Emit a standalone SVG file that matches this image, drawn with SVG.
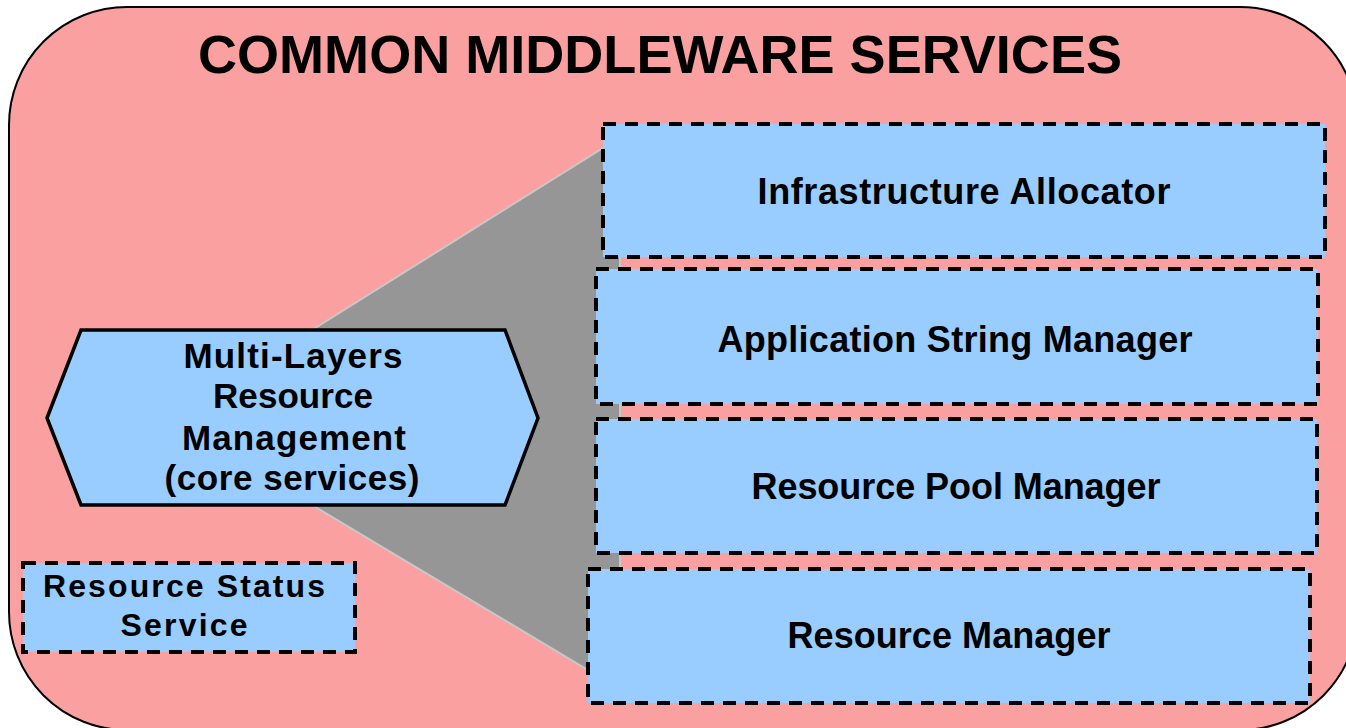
<svg xmlns="http://www.w3.org/2000/svg" width="1346" height="728" viewBox="0 0 1346 728">
<style>
.t{font-family:"Liberation Sans",Arial,sans-serif;font-weight:bold;fill:#000;text-anchor:middle}
.box{fill:#99CCFF;stroke:#000;stroke-width:4;stroke-dasharray:13 9}
</style>
<rect x="9" y="7" width="1349" height="723" rx="118" ry="118" fill="#FAA0A0" stroke="#000" stroke-width="2"/>
<text class="t" x="660" y="73" font-size="53" textLength="924" lengthAdjust="spacingAndGlyphs">COMMON MIDDLEWARE SERVICES</text>
<g id="connectors">
<polygon points="312,330 603,148 620,148 620,670 588,670 312,505" fill="#969696" stroke="#C8C8C8" stroke-width="2"/>
</g>
<g id="infrastructure-allocator">
<rect class="box" x="603" y="124" width="722" height="133"/>
<text class="t" x="964" y="204" font-size="36" textLength="413" lengthAdjust="spacing">Infrastructure Allocator</text>
</g>
<g id="application-string-manager">
<rect class="box" x="596" y="269" width="722" height="135"/>
<text class="t" x="955" y="352" font-size="36" textLength="475" lengthAdjust="spacing">Application String Manager</text>
</g>
<g id="resource-pool-manager">
<rect class="box" x="596" y="419" width="721" height="134"/>
<text class="t" x="956" y="499" font-size="36" textLength="409" lengthAdjust="spacing">Resource Pool Manager</text>
</g>
<g id="resource-manager">
<rect class="box" x="588" y="569" width="722" height="134"/>
<text class="t" x="949" y="648" font-size="36" textLength="323" lengthAdjust="spacing">Resource Manager</text>
</g>
<g id="multi-layers">
<polygon points="47,418 81,330 505,330 538,418 505,505 81,505" fill="#99CCFF" stroke="#000" stroke-width="3.5"/>
<text class="t" x="293" y="368" font-size="35" textLength="219" lengthAdjust="spacing">Multi-Layers</text>
<text class="t" x="293" y="408" font-size="35" textLength="160" lengthAdjust="spacing">Resource</text>
<text class="t" x="294" y="450" font-size="35" textLength="224" lengthAdjust="spacing">Management</text>
<text class="t" x="292" y="490" font-size="35" textLength="255" lengthAdjust="spacing">(core services)</text>
</g>
<g id="resource-status-service">
<rect class="box" x="23" y="563" width="332" height="89"/>
<text class="t" x="184" y="597" font-size="32" textLength="282" lengthAdjust="spacing">Resource Status</text>
<text class="t" x="184" y="636" font-size="32" textLength="127" lengthAdjust="spacing">Service</text>
</g>
</svg>
